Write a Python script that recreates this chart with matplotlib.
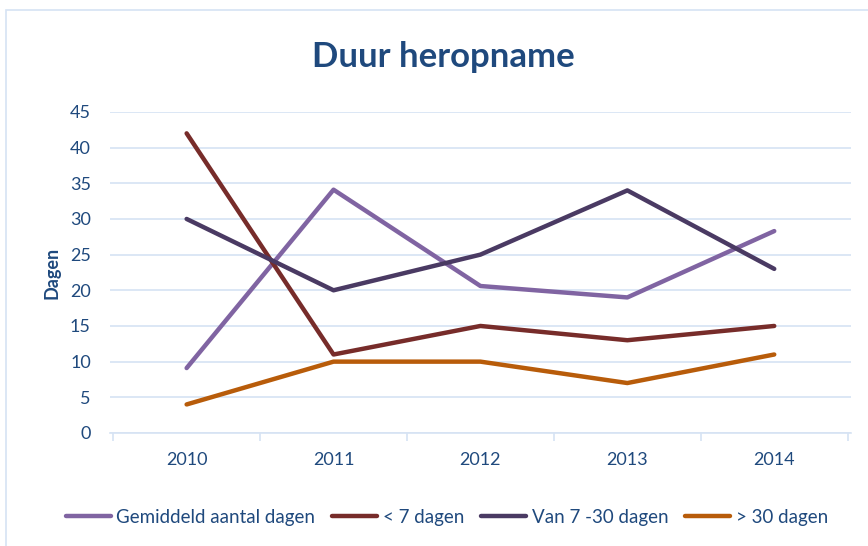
import numpy as np
import matplotlib.pyplot as plt
from matplotlib.patches import Rectangle

years = ['2010', '2011', '2012', '2013', '2014']
gemiddeld = [9.1, 34.1, 20.6, 19.0, 28.3]
onder_7 = [42, 11, 15, 13, 15]
van_7_30 = [30, 20, 25, 34, 23]
boven_30 = [4, 10, 10, 7, 11]

labels = ['Gemiddeld aantal dagen', '< 7 dagen', 'Van 7 -30 dagen', '> 30 dagen']
colors = ['#8064A2', '#772C2A', '#4A3A63', '#B85C0A']

plt.rcParams['font.family'] = ['Lato', 'DejaVu Sans']
txt = '#1F497D'
grid = '#D6E3F3'

fig = plt.figure(figsize=(8.68, 5.46), dpi=100)
fig.patches.append(Rectangle((0.007, -0.01), 1.2, 0.992, transform=fig.transFigure,
                             fill=False, edgecolor='#D6E3F3', linewidth=1.2))
ax = fig.add_axes([0.127, 0.207, 0.853, 0.588])

x = np.arange(len(years))
for vals, lab, c in zip([gemiddeld, onder_7, van_7_30, boven_30], labels, colors):
    ax.plot(x, vals, color=c, linewidth=3.2, label=lab, solid_capstyle='round')

ax.set_xlim(-0.52, 4.52)
ax.set_ylim(0, 45)
ax.set_yticks(range(0, 46, 5))
ax.set_xticks(x)
ax.set_xticklabels(years)
ax.set_xticks(np.arange(-0.5, 5, 1), minor=True)
ax.tick_params(axis='x', which='major', length=0, pad=14, labelsize=13, labelcolor=txt)
ax.tick_params(axis='x', which='minor', length=6, color=grid, width=1.2)
ax.tick_params(axis='y', length=0, pad=14, labelsize=13, labelcolor=txt)
ax.grid(axis='y', color=grid, linewidth=1.2)
ax.set_axisbelow(True)
for s in ['top', 'right', 'left']:
    ax.spines[s].set_visible(False)
ax.spines['bottom'].set_color(grid)
ax.spines['bottom'].set_linewidth(1.2)

ax.set_ylabel('Dagen', fontsize=13, fontweight='bold', color=txt, labelpad=7)
fig.text(0.511, 0.895, 'Duur heropname', ha='center', va='center',
         fontsize=25, fontweight='bold', color=txt)

fig.legend(loc='center', bbox_to_anchor=(0.515, 0.053), ncol=4, frameon=False,
           fontsize=13.5, labelcolor=txt, handlelength=2.4, handletextpad=0.3,
           columnspacing=0.9)

fig.savefig('out.png', dpi=100)
